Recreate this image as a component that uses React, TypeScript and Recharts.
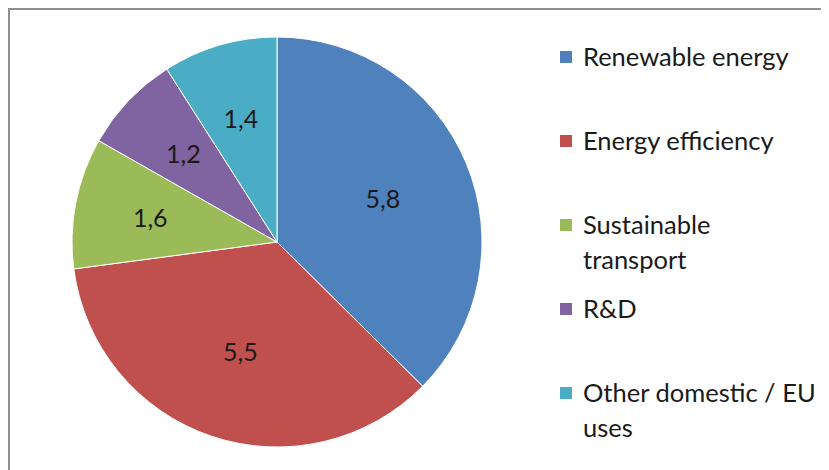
import { Cell, Legend, Pie, PieChart } from "recharts";

const categories = [
  "Renewable energy",
  "Energy efficiency",
  "Sustainable transport",
  "R&D",
  "Other domestic / EU uses",
];
const legendLines = [
  ["Renewable energy"],
  ["Energy efficiency"],
  ["Sustainable", "transport"],
  ["R&D"],
  ["Other domestic / EU", "uses"],
];
const values = [5.8, 5.5, 1.6, 1.2, 1.4];
const colors = ["#4F81BD", "#C0504D", "#9BBB59", "#8064A2", "#4BACC6"];

const rows = categories.map((name, i) => ({ name, value: values[i] }));
const FONT = "Lato, 'Open Sans', sans-serif";
const RAD = Math.PI / 180;

function renderLabel(props: any) {
  const { cx, cy, midAngle, outerRadius, value } = props;
  const r = outerRadius * (value > 3 ? 0.56 : 0.63);
  const x = cx + r * Math.cos(-midAngle * RAD);
  const y = cy + r * Math.sin(-midAngle * RAD);
  return (
    <text
      x={x}
      y={y}
      textAnchor="middle"
      dominantBaseline="central"
      fill="#1a1a1a"
      fontSize={25}
      fontFamily={FONT}
    >
      {String(value).replace(".", ",")}
    </text>
  );
}

function renderLegend() {
  return (
    <div style={{ position: "relative", width: 260, height: 440, fontFamily: FONT }}>
      {legendLines.map((lines, i) => (
        <div key={i} style={{ position: "absolute", left: 0, top: i * 84 }}>
          <div
            style={{
              position: "absolute",
              left: 0,
              top: 11,
              width: 12,
              height: 12,
              background: colors[i],
            }}
          />
          {lines.map((t, j) => (
            <div
              key={j}
              style={{
                position: "absolute",
                left: 23,
                top: j * 35 - 1,
                whiteSpace: "nowrap",
                fontSize: 25.5,
                lineHeight: "34px",
                color: "#1a1a1a",
              }}
            >
              {t}
            </div>
          ))}
        </div>
      ))}
    </div>
  );
}

export default function App() {
  return (
    <div
      style={{
        width: 819,
        height: 460,
        borderLeft: "2px solid #8f8f8f",
        borderTop: "2px solid #8f8f8f",
        position: "relative",
        background: "#fff",
      }}
    >
      <PieChart width={819} height={460}>
        <Pie
          data={rows}
          dataKey="value"
          nameKey="name"
          cx={262}
          cy={227}
          outerRadius={205}
          startAngle={90}
          endAngle={-270}
          stroke="#ffffff"
          strokeWidth={1}
          label={renderLabel}
          labelLine={false}
          isAnimationActive={false}
        >
          {rows.map((r, i) => (
            <Cell key={r.name} fill={colors[i]} />
          ))}
        </Pie>
        <Legend
          content={renderLegend}
          wrapperStyle={{ position: "absolute", left: 550, top: 30, width: 260 }}
        />
      </PieChart>
    </div>
  );
}
